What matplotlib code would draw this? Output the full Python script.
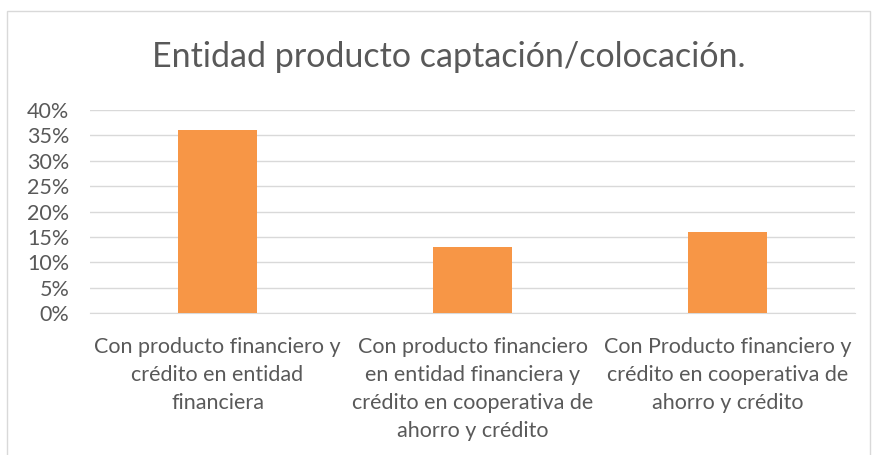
import matplotlib.pyplot as plt
from matplotlib.patches import Rectangle
from matplotlib.ticker import PercentFormatter

# Data
categories = [
    "Con producto financiero y\ncrédito en entidad\nfinanciera",
    "Con producto financiero\nen entidad financiera y\ncrédito en cooperativa de\nahorro y crédito",
    "Con Producto financiero y\ncrédito en cooperativa de\nahorro y crédito",
]
values = [0.36, 0.13, 0.16]
yticks = [0, 0.05, 0.10, 0.15, 0.20, 0.25, 0.30, 0.35, 0.40]

TEXT = "#595959"
GRID = "#D9D9D9"
BAR = "#F79646"

plt.rcParams["font.family"] = ["Lato", "DejaVu Sans"]

fig = plt.figure(figsize=(8.75, 4.55), dpi=100)
ax = fig.add_axes([90 / 875, 1 - 313 / 455, 765 / 875, 203 / 455])

x = range(len(values))
ax.bar(x, values, width=0.31, color=BAR, zorder=3)

ax.set_xlim(-0.5, len(values) - 0.5)
ax.set_ylim(0, 0.40)
ax.set_yticks(yticks)
ax.yaxis.set_major_formatter(PercentFormatter(1.0, decimals=0))
ax.set_xticks(list(x))
ax.set_xticklabels(categories, fontsize=15.5, color=TEXT, linespacing=1.5)
ax.tick_params(axis="y", labelsize=15.5, colors=TEXT, length=0, pad=15)
ax.tick_params(axis="x", length=0, pad=17)
ax.grid(axis="y", color=GRID, linewidth=1, zorder=0)
for s in ["top", "right", "left"]:
    ax.spines[s].set_visible(False)
ax.spines["bottom"].set_color(GRID)

fig.text(449 / 875, 1 - 57 / 455, "Entidad producto captación/colocación.",
         ha="center", va="center", fontsize=24.5, color=TEXT)

# chart border
fig.add_artist(Rectangle((7 / 875, -0.05), 863 / 875, 1 - 11 / 455 + 0.05,
                         transform=fig.transFigure, fill=False,
                         edgecolor=GRID, linewidth=1))

fig.savefig("out.png", dpi=100, facecolor="white")
